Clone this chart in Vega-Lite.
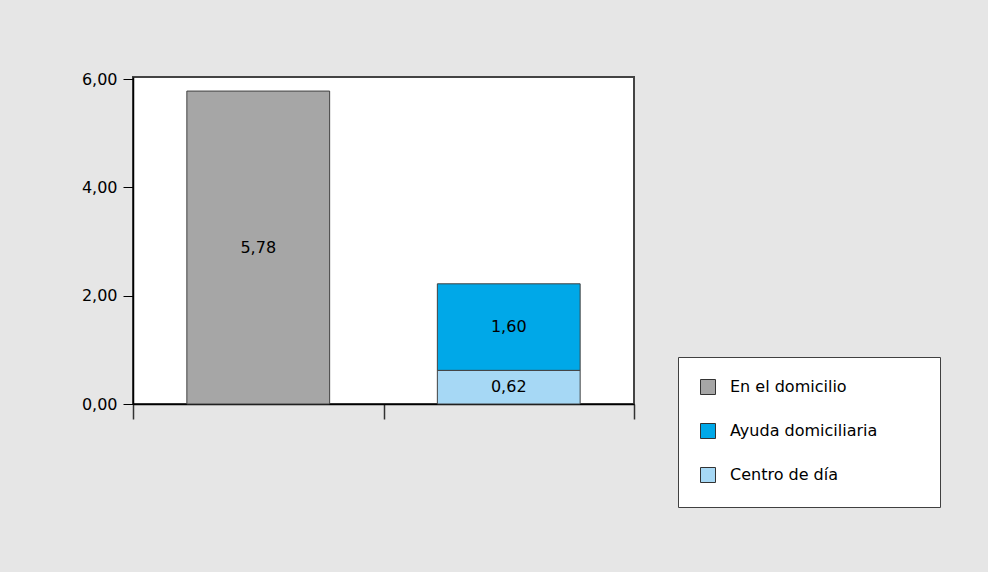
{
  "$schema": "https://vega.github.io/schema/vega-lite/v6.json",
  "width": 501,
  "height": 327,
  "autosize": {"type": "none"},
  "padding": {"left": 133, "top": 77, "right": 354, "bottom": 168},
  "background": "#e6e6e6",
  "config": {
    "view": {"fill": "white", "stroke": "#444444", "strokeWidth": 2},
    "font": "DejaVu Sans"
  },
  "data": {
    "values": [
      {"grupo": "En el domicilio", "serie": "En el domicilio", "valor": 5.78, "etiqueta": "5,78"},
      {"grupo": "Servicios", "serie": "Ayuda domiciliaria", "valor": 1.60, "etiqueta": "1,60"},
      {"grupo": "Servicios", "serie": "Centro de día", "valor": 0.62, "etiqueta": "0,62"}
    ]
  },
  "transform": [
    {"stack": "valor", "groupby": ["grupo"], "sort": [{"field": "serie", "order": "descending"}], "as": ["v0", "v1"]},
    {"calculate": "(datum.v0 + datum.v1) / 2", "as": "vmid"}
  ],
  "encoding": {
    "x": {
      "field": "grupo", "type": "nominal", "sort": null,
      "scale": {"paddingInner": 0, "paddingOuter": 0},
      "axis": {"title": null, "labels": false, "tickBand": "extent", "tickSize": 15, "tickWidth": 1.5, "tickColor": "#333333", "domainColor": "black", "domainWidth": 1.5}
    }
  },
  "layer": [
    {
      "mark": {"type": "bar", "width": {"band": 0.57}, "stroke": "#404040", "strokeWidth": 1},
      "encoding": {
        "y": {
          "field": "v0", "type": "quantitative",
          "scale": {"domain": [0, 6.04], "nice": false},
          "axis": {"title": null, "values": [0, 2, 4, 6], "grid": false, "tickSize": 10, "tickColor": "black", "domainColor": "black", "domainWidth": 1.5, "labelFontSize": 16, "labelColor": "black", "labelPadding": 6, "labelExpr": "replace(format(datum.value, '.2f'), '.', ',')"}
        },
        "y2": {"field": "v1"},
        "color": {
          "field": "serie", "type": "nominal",
          "scale": {"domain": ["En el domicilio", "Ayuda domiciliaria", "Centro de día"], "range": ["#a6a6a6", "#00a8e8", "#a6d8f5"]},
          "legend": {
            "title": " ", "titleOrient": "right", "titlePadding": 41, "titleFontSize": 16,
            "orient": "none", "legendX": 545, "legendY": 280,
            "fillColor": "white", "strokeColor": "#404040", "padding": 22,
            "symbolType": "square", "symbolSize": 225, "symbolStrokeColor": "#333333", "symbolStrokeWidth": 1,
            "labelFontSize": 16, "labelColor": "black", "labelOffset": 14, "rowPadding": 24
          }
        }
      }
    },
    {
      "mark": {"type": "text", "fontSize": 16, "color": "black"},
      "encoding": {
        "y": {"field": "vmid", "type": "quantitative"},
        "text": {"field": "etiqueta"}
      }
    }
  ]
}
